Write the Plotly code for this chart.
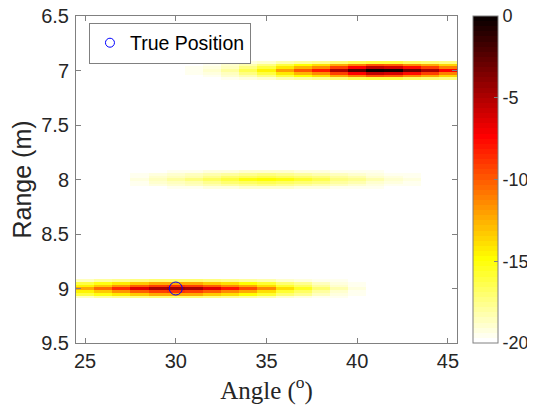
import numpy as np
import plotly.graph_objects as go

# ---------------- data ----------------
angles = list(range(25, 46))                       # degrees (cell centres)
range_step = 0.025
ranges = [round(6.5 + i * range_step, 3) for i in range(121)]   # m

# peak level (dB) along angle for each target band, None = below -20 dB
band_ranges = [7.0, 8.0, 9.0]
band7_peak = [None, None, None, None, None, None, -19.5, -18.8, -18.0, -16.5,
              -14.5, -12.0, -10.0, -8.0, -5.0, -2.5, 0.0, -0.5, -3.0, -5.0, -7.5]
band8_peak = [None, None, None, -19.3, -18.6, -18.0, -17.5, -16.8, -16.0, -15.3,
              -15.0, -15.3, -15.8, -16.5, -17.2, -17.8, -18.3, -18.8, -19.3, -19.7, None]
band9_peak = [-12.5, -10.5, -8.5, -6.5, -5.0, -4.5, -5.0, -6.5, -8.0, -9.5,
              -11.5, -14.0, -15.5, -17.0, -18.3, -19.2, None, None, None, None, None]
band_peaks = [band7_peak, band8_peak, band9_peak]

# relative weight of the range bins around each band centre
row_offsets = [-3, -2, -1, 0, 1, 2, 3]              # in range bins
row_weight = [0.2, 0.5, 0.72, 1.0, 0.72, 0.5, 0.2]

floor_db = -20.0
true_angle = [30]
true_range = [9]

# ---------------- build matrix ----------------
z = np.full((len(ranges), len(angles)), floor_db)
for br, peaks in zip(band_ranges, band_peaks):
    ci = int(round((br - 6.5) / range_step))
    for off, w in zip(row_offsets, row_weight):
        for j, p in enumerate(peaks):
            if p is None:
                continue
            z[ci + off, j] = floor_db + (p - floor_db) * w

# MATLAB hot(64), flipped
m = 64
n = int(3 / 8 * m)
hot = []
for k in range(1, m + 1):
    r = k / n if k <= n else 1.0
    g = 0.0 if k <= n else ((k - n) / n if k <= 2 * n else 1.0)
    b = 0.0 if k <= 2 * n else (k - 2 * n) / (m - 2 * n)
    hot.append((r, g, b))
colorscale = []
for i in range(m):
    r, g, b = hot[m - 1 - i]
    c = f"rgb({round(r*255)},{round(g*255)},{round(b*255)})"
    colorscale.append([i / m, c])
    colorscale.append([(i + 1) / m, c])

axis_col = "#808080"
txt_col = "#262626"
font_main = "Liberation Sans, Arial, sans-serif"

fig = go.Figure()
fig.add_trace(go.Heatmap(
    x=angles, y=ranges, z=z, zmin=-20, zmax=0,
    colorscale=colorscale, showscale=True, hoverinfo="skip",
    colorbar=dict(
        x=1.042, xanchor="left", xref="paper",
        y=0.5, yanchor="middle", len=1.0, lenmode="fraction",
        thickness=25, thicknessmode="pixels",
        outlinewidth=1, outlinecolor=axis_col,
        tickvals=[-20, -15, -10, -5, 0],
        ticktext=["-20", "-15", "-10", "-5", "0"],
        ticks="inside", ticklen=4, tickcolor=axis_col,
        ticklabeloverflow="allow",
        tickfont=dict(family=font_main, size=18, color=txt_col),
        xpad=0, ypad=0,
    ),
))
fig.add_trace(go.Scatter(
    x=true_angle, y=true_range, mode="markers", showlegend=False,
    marker=dict(symbol="circle-open", size=13, color="blue",
                line=dict(width=1, color="blue")),
    hoverinfo="skip",
))
fig.add_trace(go.Scatter(
    x=[None], y=[None], mode="markers", name="True Position",
    marker=dict(symbol="circle-open", size=9, color="blue",
                line=dict(width=1, color="blue")),
))

# the page body adds an 8 px offset, so the figure is shrunk to compensate
fig.update_layout(
    width=527, height=401,
    margin=dict(l=68, r=78, t=8, b=66, autoexpand=False),
    paper_bgcolor="white", plot_bgcolor="white",
    font=dict(family=font_main, size=20, color=txt_col),
    showlegend=True,
    legend=dict(x=0.034, y=0.98, xanchor="left", yanchor="top",
                bgcolor="white", bordercolor=axis_col, borderwidth=1,
                font=dict(family=font_main, size=19.5, color="black"),
                itemwidth=30, tracegroupgap=0),
    xaxis=dict(
        range=[24.5, 45.5], tickvals=[25, 30, 35, 40, 45],
        ticks="inside", ticklen=5, tickcolor=axis_col,
        showline=True, linecolor=axis_col, linewidth=1, mirror="ticks",
        showgrid=False, zeroline=False, ticklabelstandoff=0,
        ticklabeloverflow="allow",
        tickfont=dict(family=font_main, size=20, color=txt_col),
        title=dict(text="Angle (<sup>o</sup>)", standoff=8,
                   font=dict(family="Liberation Serif, serif", size=25, color=txt_col)),
    ),
    yaxis=dict(
        range=[9.5, 6.5], tickvals=[6.5, 7, 7.5, 8, 8.5, 9, 9.5],
        ticktext=["6.5", "7", "7.5", "8", "8.5", "9", "9.5"],
        ticks="inside", ticklen=5, tickcolor=axis_col,
        showline=True, linecolor=axis_col, linewidth=1, mirror="ticks",
        showgrid=False, zeroline=False, ticklabelstandoff=2,
        ticklabeloverflow="allow",
        tickfont=dict(family=font_main, size=20, color=txt_col),
        title=dict(text="Range (m)", standoff=4,
                   font=dict(family=font_main, size=25, color=txt_col)),
    ),
)

fig.write_html("out.html")
